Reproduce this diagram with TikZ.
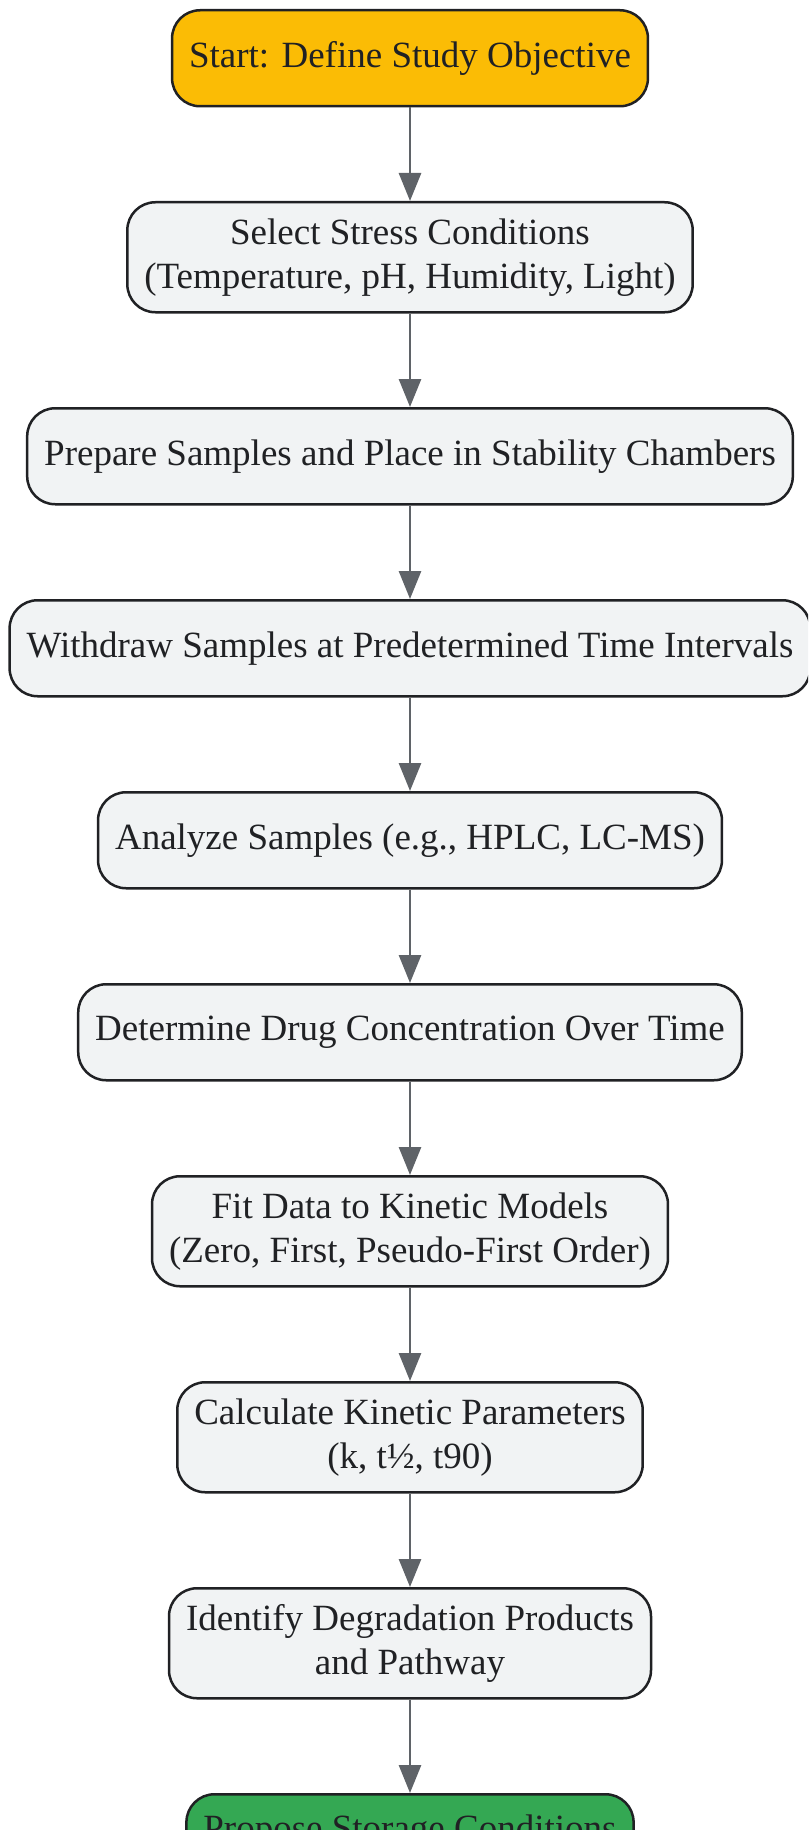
\documentclass[tikz,border=0pt]{standalone}
\usepackage{fontspec}
\setmainfont{Liberation Serif}
\usetikzlibrary{positioning,arrows.meta}

\definecolor{inkgrey}{HTML}{202124}
\definecolor{arrowgrey}{HTML}{5F6368}
\definecolor{boxgrey}{HTML}{F1F3F4}
\definecolor{startgold}{HTML}{FBBC05}
\definecolor{endgreen}{HTML}{34A853}

\begin{document}
\begin{tikzpicture}[node distance=93.5pt,
  box/.style={rectangle,draw=inkgrey,line width=2.5pt,fill=boxgrey,
    rounded corners=28pt,text=inkgrey,align=center,inner xsep=17pt,inner ysep=0pt,
    minimum height=96pt,font=\fontsize{37}{44}\selectfont},
  twoline/.style={minimum height=110pt},
  startbox/.style={box,fill=startgold},
  endbox/.style={box,twoline,fill=endgreen}]
  \useasboundingbox (0,0) rectangle (808pt,-1830pt);
  \clip (0,0) rectangle (808pt,-1830pt);

  \node[startbox,anchor=north] (n1) at (410pt,-9pt) {Start: Define Study Objective};
  \node[box,twoline,below=of n1] (n2) {Select Stress Conditions\\(Temperature, pH, Humidity, Light)};
  \node[box,below=of n2] (n3) {Prepare Samples and Place in Stability Chambers};
  \node[box,below=of n3] (n4) {Withdraw Samples at Predetermined Time Intervals};
  \node[box,below=of n4] (n5) {Analyze Samples (e.g., HPLC, LC-MS)};
  \node[box,below=of n5] (n6) {Determine Drug Concentration Over Time};
  \node[box,twoline,below=of n6] (n7) {Fit Data to Kinetic Models\\(Zero, First, Pseudo-First Order)};
  \node[box,twoline,below=of n7] (n8) {Calculate Kinetic Parameters\\(k, t½, t90)};
  \node[box,twoline,below=of n8] (n9) {Identify Degradation Products\\and Pathway};
  \node[endbox,below=of n9] (n10) {Propose Storage Conditions\\\mbox{}};

  \path[color=arrowgrey,line width=2.8pt,-{Triangle[length=28pt,width=22pt]}]
    (n1) edge (n2)
    (n2) edge (n3)
    (n3) edge (n4)
    (n4) edge (n5)
    (n5) edge (n6)
    (n6) edge (n7)
    (n7) edge (n8)
    (n8) edge (n9)
    (n9) edge (n10);
\end{tikzpicture}
\end{document}
